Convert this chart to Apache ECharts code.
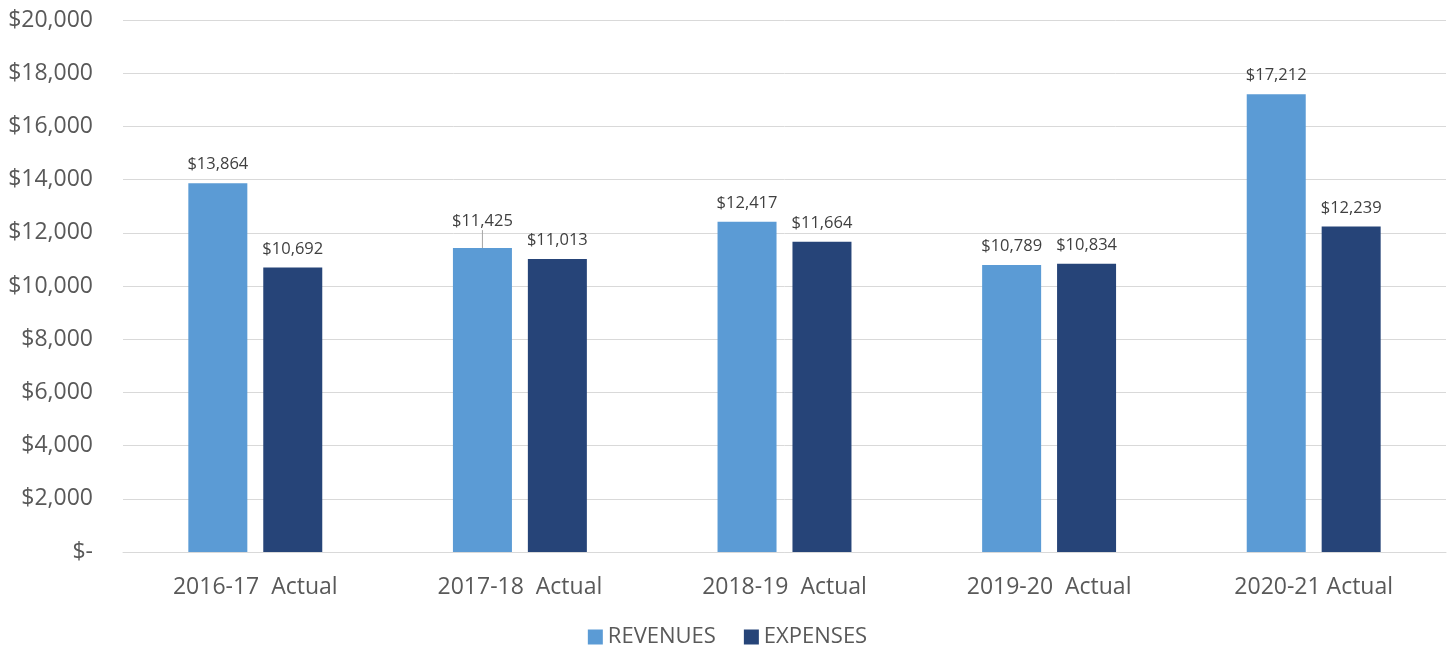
<!DOCTYPE html>
<html>
<head>
    <meta charset="utf-8">
    <title>Revenues vs Expenses</title>
    <script src="https://cdn.jsdelivr.net/npm/echarts@6/dist/echarts.min.js"></script>
    <style>
        * { margin: 0; padding: 0 }
        html, body { width: 100%; height: 100%; background: #fff; }
        #main { width: 1455px; height: 649px; }
    </style>
</head>
<body>
<div id="main"></div>
<script type="text/javascript">
    var categories = ['2016-17  Actual', '2017-18  Actual', '2018-19  Actual', '2019-20  Actual', '2020-21 Actual'];
    var revenues = [13864, 11425, 12417, 10789, 17212];
    var expenses = [10692, 11013, 11664, 10834, 12239];

    function money(v) {
        if (v === 0) return '$-';
        return '$' + v.toLocaleString('en-US');
    }

    var fontFam = '"Open Sans", "Noto Sans", sans-serif';

    // 2017-18 revenue label sits a bit higher with a small leader line
    var revData = revenues.map(function (v, i) {
        if (i === 1) {
            return {
                value: v,
                labelLine: {show: true, lineStyle: {color: '#A6A6A6', width: 1}}
            };
        }
        return v;
    });

    var chart = echarts.init(document.getElementById('main'));
    chart.setOption({
        animation: false,
        grid: {left: 123, right: 9, top: 20, bottom: 97},
        legend: {
            top: 626,
            left: 'center',
            padding: 0,
            itemWidth: 15,
            itemHeight: 15,
            itemGap: 28,
            icon: 'rect',
            textStyle: {fontSize: 22, color: '#595959', fontFamily: fontFam},
            data: ['REVENUES', 'EXPENSES']
        },
        xAxis: {
            type: 'category',
            data: categories,
            axisLine: {lineStyle: {color: '#D9D9D9'}},
            axisTick: {show: false},
            axisLabel: {fontSize: 23, color: '#595959', fontFamily: fontFam, margin: 24}
        },
        yAxis: {
            type: 'value',
            min: 0,
            max: 20000,
            interval: 2000,
            axisLine: {show: false},
            axisTick: {show: false},
            splitLine: {lineStyle: {color: '#D9D9D9', width: 1}},
            axisLabel: {
                fontSize: 23, color: '#595959', fontFamily: fontFam, margin: 30,
                formatter: money
            }
        },
        series: [
            {
                name: 'REVENUES',
                type: 'bar',
                barWidth: 59,
                barGap: '27%',
                data: revData,
                itemStyle: {color: '#5B9BD5'},
                labelLayout: function (p) {
                    if (p.dataIndex === 1) return {dy: -8};
                    return {};
                },
                label: {
                    show: true, position: 'top', distance: 10,
                    fontSize: 16.5, color: '#404040', fontFamily: fontFam,
                    formatter: function (p) { return money(p.value); }
                }
            },
            {
                name: 'EXPENSES',
                type: 'bar',
                barWidth: 59,
                data: expenses,
                itemStyle: {color: '#264478'},
                label: {
                    show: true, position: 'top', distance: 10,
                    fontSize: 16.5, color: '#404040', fontFamily: fontFam,
                    formatter: function (p) { return money(p.value); }
                }
            }
        ]
    });
</script>
</body>
</html>
